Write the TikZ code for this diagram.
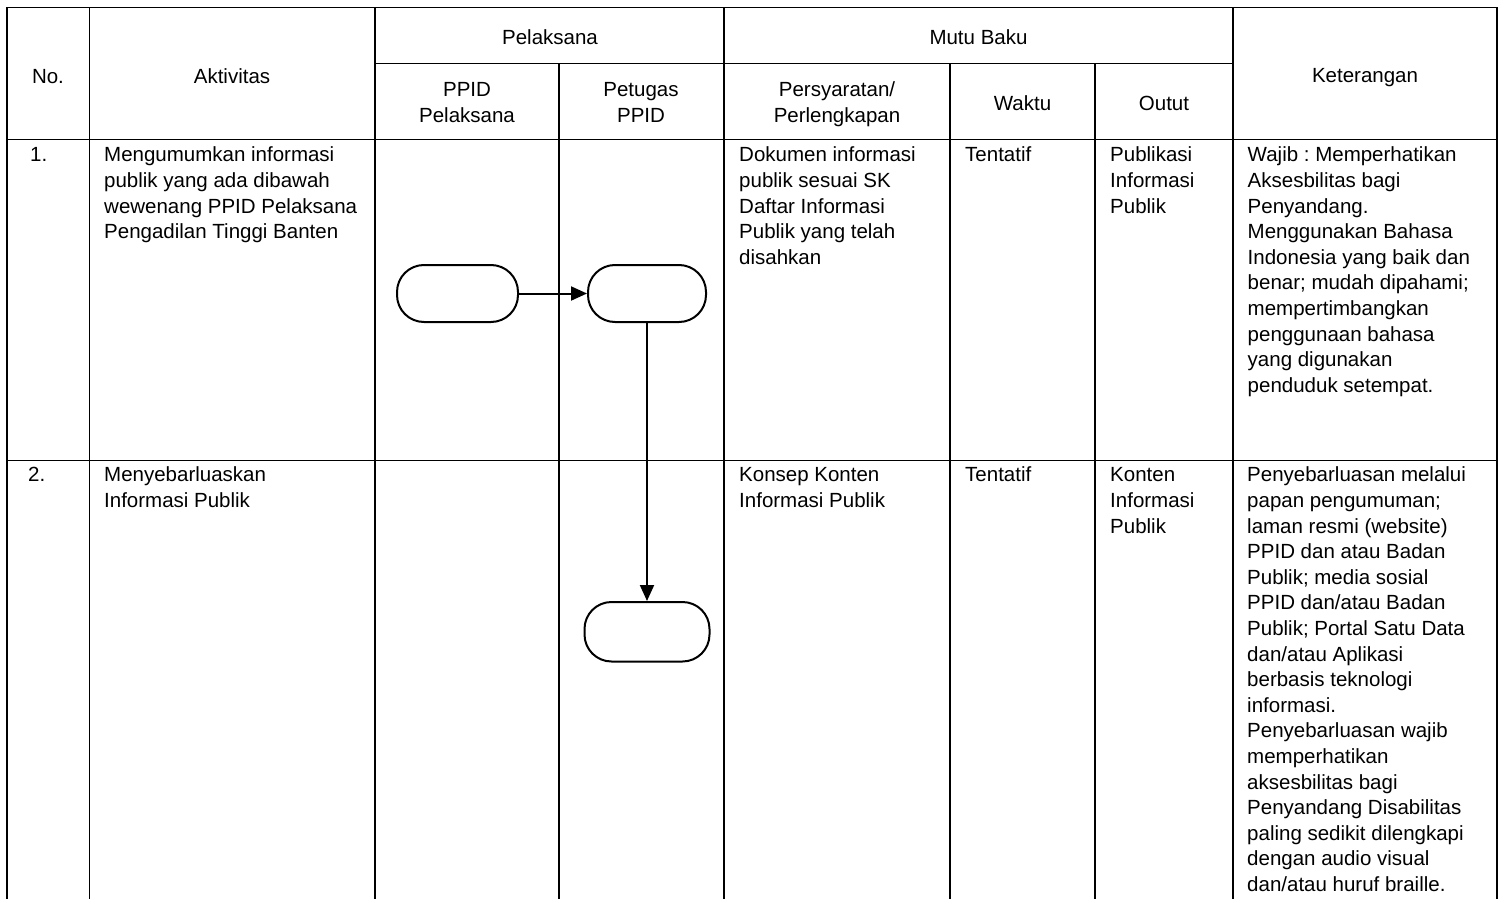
\documentclass[tikz,border=0pt]{standalone}
\usepackage{fontspec}
\setmainfont{Liberation Sans}
\usetikzlibrary{arrows.meta,positioning}
\newcommand{\tabfont}{\fontsize{20.5}{25.6}\selectfont\frenchspacing}

\begin{document}
\begin{tikzpicture}[x=1pt, y=-1pt,
    grid/.style = {line width=1.3pt},
    pill/.style = {draw, line width=2pt, rounded corners=27pt, minimum width=121pt, minimum height=57pt},
    head/.style = {anchor=north, align=center, inner sep=0pt, font=\tabfont, execute at begin node=\strut},
    cell/.style = {anchor=north west, align=left, inner sep=0pt, font=\tabfont, execute at begin node=\strut},
    flow/.style = {line width=2pt, -{Triangle[length=16pt, width=14pt]}}]
        \useasboundingbox (0,0) rectangle (1505,899);
        \foreach \x in {7,89.5,375,724,1233,1497}
            \draw[grid] (\x,7.3) -- (\x,899);
        \foreach \x in {559,950,1095}
            \draw[grid] (\x,63.3) -- (\x,899);
        \foreach \y in {7.3,139.3,460.7}
            \draw[grid] (7,\y) -- (1497,\y);
        \draw[grid] (375,63.3) -- (1233,63.3);

        \node[head] (no) at (48,65.1) {No.};
        \node[head] (akt) at (232,65.1) {Aktivitas};
        \node[head] (pel) at (550,26.8) {Pelaksana};
        \node[head] (ppid) at (467,78.8) {\strut PPID\\Pelaksana};
        \node[head] (ptg) at (641,78.8) {\strut Petugas\\PPID};
        \node[head] (mutu) at (978.5,26.8) {Mutu Baku};
        \node[head] (syarat) at (837,78.8) {\strut Persyaratan/\\Perlengkapan};
        \node[head] (waktu) at (1022.5,92.1) {Waktu};
        \node[head] (outut) at (1164,92.1) {Outut};
        \node[head] (ket) at (1365,64.6) {Keterangan};

        \node[cell] (no1) at (30,143.8) {1.};
        \node[cell] (akt1) at (104,143.8) {\strut Mengumumkan informasi\\publik yang ada dibawah\\wewenang PPID Pelaksana\\Pengadilan Tinggi Banten};
        \node[cell] (syarat1) at (739,143.8) {\strut Dokumen informasi\\publik sesuai SK\\Daftar Informasi\\Publik yang telah\\disahkan};
        \node[cell] (waktu1) at (965,143.8) {Tentatif};
        \node[cell] (outut1) at (1110,143.8) {\strut Publikasi\\Informasi\\Publik};
        \node[cell] (ket1) at (1247.5,143.8) {\strut Wajib : Memperhatikan\\Aksesbilitas bagi\\Penyandang.\\Menggunakan Bahasa\\Indonesia yang baik dan\\benar; mudah dipahami;\\mempertimbangkan\\penggunaan bahasa\\yang digunakan\\penduduk setempat.};

        \node[cell] (no2) at (28,463.8) {2.};
        \node[cell] (akt2) at (104,463.8) {\strut Menyebarluaskan\\Informasi Publik};
        \node[cell] (syarat2) at (739,463.8) {\strut Konsep Konten\\Informasi Publik};
        \node[cell] (waktu2) at (965,463.8) {Tentatif};
        \node[cell] (outut2) at (1110,463.8) {\strut Konten\\Informasi\\Publik};
        \node[cell] (ket2) at (1247,463.8) {\strut Penyebarluasan melalui\\papan pengumuman;\\laman resmi (website)\\PPID dan atau Badan\\Publik; media sosial\\PPID dan/atau Badan\\Publik; Portal Satu Data\\dan/atau Aplikasi\\berbasis teknologi\\informasi.\\Penyebarluasan wajib\\memperhatikan\\aksesbilitas bagi\\Penyandang Disabilitas\\paling sedikit dilengkapi\\dengan audio visual\\dan/atau huruf braille.};

        \node[pill] (1) at (457.5,293.5) {};
        \node[pill, minimum width=118pt] (2) [right=68pt of 1] {};
        \node[pill, minimum width=125pt, minimum height=59.5pt] (3) [below=278pt of 2] {};
        \draw[flow] (1) -- (2);
        \draw[flow] (2) -- (3);
\end{tikzpicture}
\end{document}
